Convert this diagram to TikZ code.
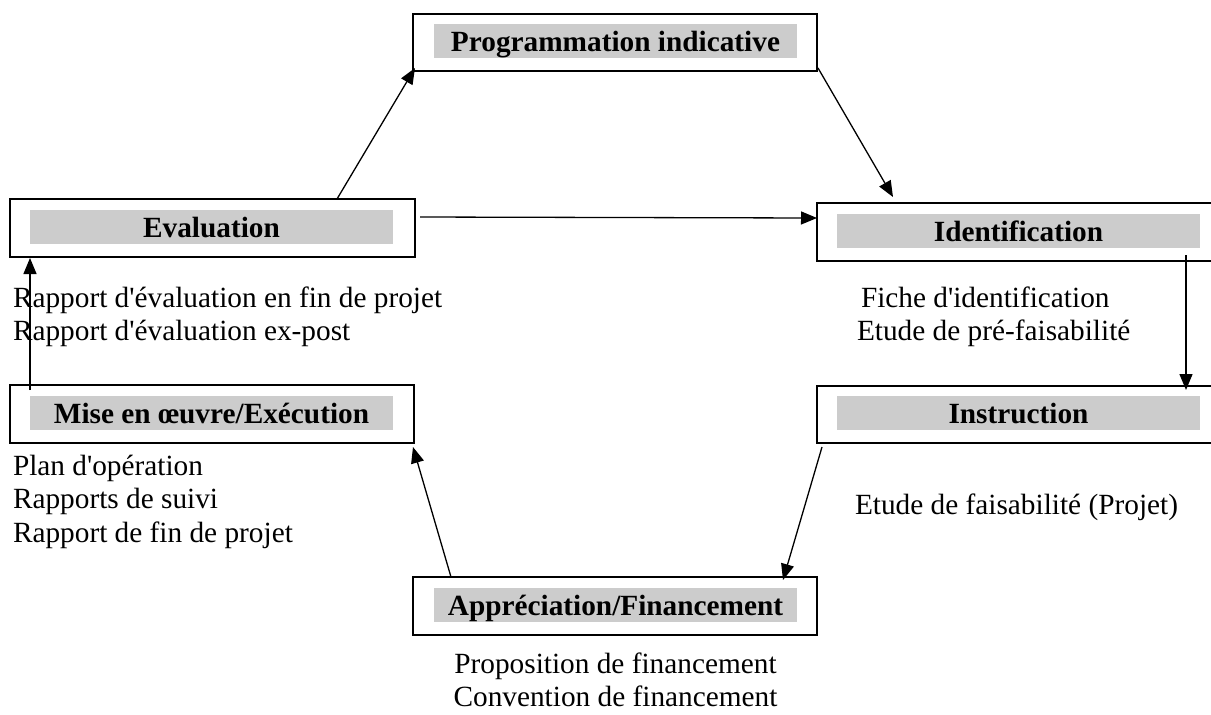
\documentclass[tikz,border=0pt]{standalone}
\usepackage{fontspec}
\setmainfont{Liberation Serif}[Ligatures=TeXOff]
\usetikzlibrary{arrows.meta,calc}
\begin{document}
\begin{tikzpicture}[x=0.5pt,y=-0.5pt,
  stage/.style={draw, line width=0.9pt, inner sep=0pt, outer sep=0pt},
  bar/.style={fill=black!20, inner sep=0pt, outer sep=0pt, minimum width=181.5pt,
    text height=13.8pt, text depth=3.2pt, font=\fontsize{14.65}{16}\selectfont\bfseries},
  doc/.style={font=\fontsize{14.65}{16.25}\selectfont, inner sep=0pt, outer sep=0pt},
  flow/.style={line width=0.65pt, -{Triangle[length=8pt,width=6.5pt]}}]
\clip (0,0) rectangle (1211,714);
\fill[white] (0,0) rectangle (1211,714);
% stage boxes
\node[stage, minimum width=202pt, minimum height=28.5pt] (P) at (615,42.5) {};
\node[stage, minimum width=202.5pt, minimum height=29pt] (E) at (212.5,228) {};
\node[stage, minimum width=199pt, minimum height=29pt] (I) at (1016,232) {};
\node[stage, minimum width=202pt, minimum height=29pt] (M) at (212,414) {};
\node[stage, minimum width=199pt, minimum height=28.5pt] (In) at (1016,414.5) {};
\node[stage, minimum width=202pt, minimum height=29pt] (A) at (615,606) {};
% grey title bars
\node[bar] (Pb) at (615.5,41) {Programmation indicative};
\node[bar] (Eb) at (211.5,226.5) {Evaluation};
\node[bar] (Ib) at (1018.5,231) {Identification};
\node[bar] (Mb) at (211.5,413) {Mise en œuvre/Exécution};
\node[bar] (Inb) at (1018.5,413) {Instruction};
\node[bar] (Ab) at (615.5,605) {Appréciation/Financement};
% documents (anchor = baseline of the last line)
\node[doc, anchor=base west, align=left] (Ed) at (13,340)
  {Rapport d'évaluation en fin de projet\\Rapport d'évaluation ex-post};
\node[doc, anchor=base west, align=left] (Id) at (857,340)
  {\hspace*{2pt}Fiche d'identification\\Etude de pré-faisabilité};
\node[doc, anchor=base west, align=left, font=\fontsize{14.65}{16.75}\selectfont] (Md) at (13,542)
  {Plan d'opération\\Rapports de suivi\\Rapport de fin de projet};
\node[doc, anchor=base west] (Ind) at (855,514) {Etude de faisabilité (Projet)};
\node[doc, anchor=base, align=center, font=\fontsize{14.65}{16.25}\selectfont] (Ad) at (615.5,706)
  {Proposition de financement\\Convention de financement};
% connectors
\draw[flow] ($(E.north)+(124.5,0)$) -- ($(P.south west)+(2,-3)$);
\draw[flow] ($(P.south east)+(1,-3)$) -- ($(I.north west)+(76,-6)$);
\draw[flow] ($(E.east)+(5,-11)$) -- ($(I.west)+(0,-14)$);
\draw[flow] ($(I.south)+(170,-6)$) -- ($(In.north)+(170,4)$);
\draw[flow] ($(In.south west)+(5,4)$) -- ($(A.north)+(168,3)$);
\draw[flow] ($(A.north west)+(38,0)$) -- ($(M.south east)+(-1,4)$);
\draw[flow] ($(M.north west)+(20,5)$) -- ($(E.south west)+(20,1)$);
\end{tikzpicture}
\end{document}
